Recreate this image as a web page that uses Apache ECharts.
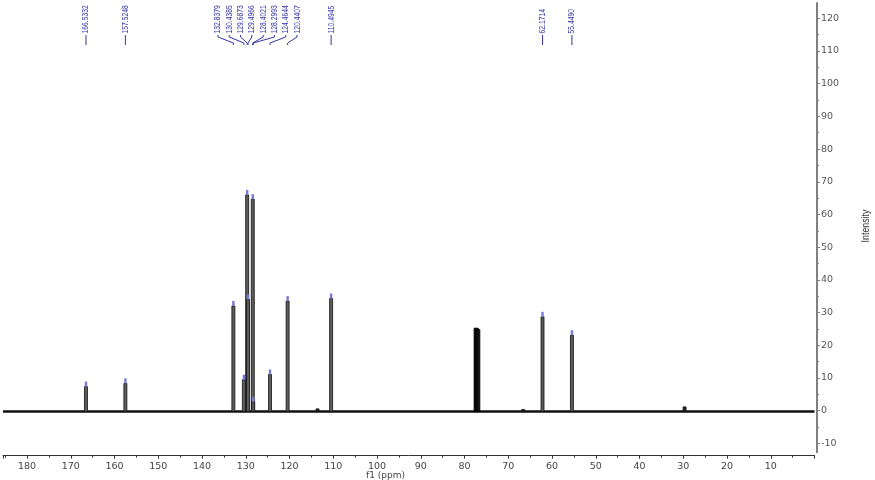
<!DOCTYPE html>
<html><head><meta charset="utf-8">
<script src="https://cdn.jsdelivr.net/npm/echarts@6/dist/echarts.min.js"></script>
<style>html,body{margin:0;padding:0;background:#fff}#c{width:875px;height:480px}</style>
</head><body><div id="c"></div>
<script>
// ---- data ----
const peakShifts  = [166.5332, 157.5248, 132.8379, 130.4385, 129.6873, 129.4966, 128.4021, 128.2993, 124.4644, 120.4407, 110.4945, 62.1714, 55.4490];
const peakHeights = [7.6, 8.6, 32.2, 9.7, 66.1, 34.2, 64.8, 3.0, 11.3, 33.7, 34.5, 28.9, 23.3];
const peakLabels  = ['166.5332','157.5248','132.8379','130.4385','129.6873','129.4966','128.4021','128.2993','124.4644','120.4407','110.4945','62.1714','55.4490'];
const solventShifts  = [77.48, 77.16, 76.84];
const solventHeights = [25.4, 25.4, 25.0];
const minorShifts  = [113.6, 66.6, 29.7];
const minorHeights = [0.8, 0.6, 1.4];
const xRange = [0, 185.5];
const yRange = [-12.45, 124.66];
const yTickRange = [-10, 120];

const chart = echarts.init(document.getElementById('c'));
const BLUE = '#3434a8';

function barItem(api, color, stroke) {
  const p0 = api.coord([api.value(0), 0]);
  const p1 = api.coord([api.value(0), api.value(1)]);
  return {type:'rect', shape:{x:p0[0]-1.5, y:p1[1], width:3, height:p0[1]-p1[1]},
          style:{fill:color, stroke:stroke, lineWidth:0.8}};
}

function layoutLabels(api) {
  const px = peakShifts.map(p => api.coord([p, 0])[0]);
  const order = px.map((x,i)=>i).sort((a,b)=>px[a]-px[b]);
  const sp = 11.3;
  const center = idx => {
    const xs = idx.map(i=>px[i]);
    const mid = (Math.min(...xs)+Math.max(...xs))/2;
    const mean = xs.reduce((s,v)=>s+v,0)/xs.length;
    return (mid+mean)/2;
  };
  let groups = order.map(i => ({idx:[i], c:px[i]}));
  let changed = true;
  while (changed) {
    changed = false;
    for (let g = 0; g < groups.length-1; g++) {
      const A = groups[g], B = groups[g+1];
      const aEnd = A.c + (A.idx.length-1)*sp/2;
      const bStart = B.c - (B.idx.length-1)*sp/2;
      if (bStart - aEnd < sp) {
        const idx = A.idx.concat(B.idx);
        groups.splice(g, 2, {idx, c:center(idx)});
        changed = true; break;
      }
    }
  }
  const lx = new Array(px.length);
  groups.forEach(G => G.idx.forEach((i,k) => { lx[i] = G.c + (k-(G.idx.length-1)/2)*sp; }));
  return {px, lx};
}

const hiddenX = (gi) => ({type:'value', gridIndex:gi, show:false, min:0, max:1, axisLine:{onZero:false}});
const option = {
  animation:false,
  backgroundColor:'#ffffff',
  grid:[
    {left:0, right:60.5, top:3, bottom:27.7},          // data
    {left:0, right:58.5, top:3, bottom:27.7},          // y axis line
    {left:0, right:58.5, top:18.3, bottom:36.7}        // y ticks / labels
  ],
  xAxis:[
    {type:'value', gridIndex:0, inverse:true, min:xRange[0], max:xRange[1], interval:10, position:'bottom', offset:3.4,
     axisLine:{onZero:false, lineStyle:{color:'#333', width:1}},
     axisTick:{length:3, lineStyle:{color:'#333'}},
     minorTick:{show:true, splitNumber:2, length:2, lineStyle:{color:'#333'}},
     axisLabel:{margin:6, fontSize:9.5, color:'#444', fontFamily:'DejaVu Sans',
       formatter: v => (v > 0 && Math.abs(v % 10) < 1e-6) ? String(v) : ''},
     splitLine:{show:false}, minorSplitLine:{show:false}},
    hiddenX(1), hiddenX(2)
  ],
  yAxis:[
    {type:'value', gridIndex:0, show:false, min:yRange[0], max:yRange[1], axisLine:{onZero:false}},
    {type:'value', gridIndex:1, position:'right', min:yRange[0], max:yRange[1],
     axisLine:{show:true, onZero:false, lineStyle:{color:'#808080', width:2}},
     axisTick:{show:false}, axisLabel:{show:false}, splitLine:{show:false}},
    {type:'value', gridIndex:2, position:'right', min:yTickRange[0], max:yTickRange[1], interval:10,
     axisLine:{show:false, onZero:false},
     axisTick:{show:true, length:3.5, lineStyle:{color:'#808080'}},
     minorTick:{show:true, splitNumber:2, length:2.5, lineStyle:{color:'#808080'}},
     axisLabel:{margin:4.5, fontSize:9.5, color:'#555', fontFamily:'DejaVu Sans'},
     splitLine:{show:false}, minorSplitLine:{show:false}}
  ],
  series:[
    {type:'line', xAxisIndex:0, yAxisIndex:0, data:[[xRange[0],0],[xRange[1],0]], symbol:'none', silent:true, z:1,
     lineStyle:{color:'#111', width:2.5}},
    {type:'custom', xAxisIndex:0, yAxisIndex:0, z:2, silent:true, data: minorShifts.map((p,i)=>[p, minorHeights[i]]),
     renderItem:(params, api) => barItem(api, '#222', '#111')},
    {type:'custom', xAxisIndex:0, yAxisIndex:0, z:3, silent:true, data: solventShifts.map((p,i)=>[p, solventHeights[i]]),
     renderItem:(params, api) => barItem(api, '#111', '#000')},
    {type:'custom', xAxisIndex:0, yAxisIndex:0, z:4, silent:true, clip:false, data: peakShifts.map((p,i)=>[p, peakHeights[i]]),
     renderItem:(params, api) => {
       const bar = barItem(api, '#5c5c5c', '#111');
       const p1 = api.coord([api.value(0), api.value(1)]);
       const mark = {type:'rect', shape:{x:p1[0]-1.2, y:p1[1]-5, width:2.4, height:5}, style:{fill:'#7a7ad8'}};
       const L = layoutLabels(api);
       const i = params.dataIndex;
       const lx = L.lx[i], px = L.px[i];
       const text = {type:'text', x:lx, y:33.5, rotation:Math.PI/2, scaleX:0.75,
         style:{text:peakLabels[i], fill:BLUE, font:'9px "Liberation Sans"', textAlign:'left', textVerticalAlign:'middle'}};
       const conn = {type:'polyline', shape:{points:[[lx,35],[lx,37],[px,43],[px,45]]},
         style:{stroke:BLUE, lineWidth:1, fill:null}};
       return {type:'group', children:[bar, mark, text, conn]};
     }}
  ],
  graphic:[
    {type:'text', left:366, top:471, style:{text:'f1 (ppm)', font:'9px "DejaVu Sans"', fill:'#444'}},
    {type:'text', x:866, y:226, rotation:Math.PI/2, scaleX:0.8,
     style:{text:'Intensity', font:'11px "Liberation Sans"', fill:'#333', textAlign:'center', textVerticalAlign:'middle'}}
  ]
};
chart.setOption(option);
</script></body></html>
